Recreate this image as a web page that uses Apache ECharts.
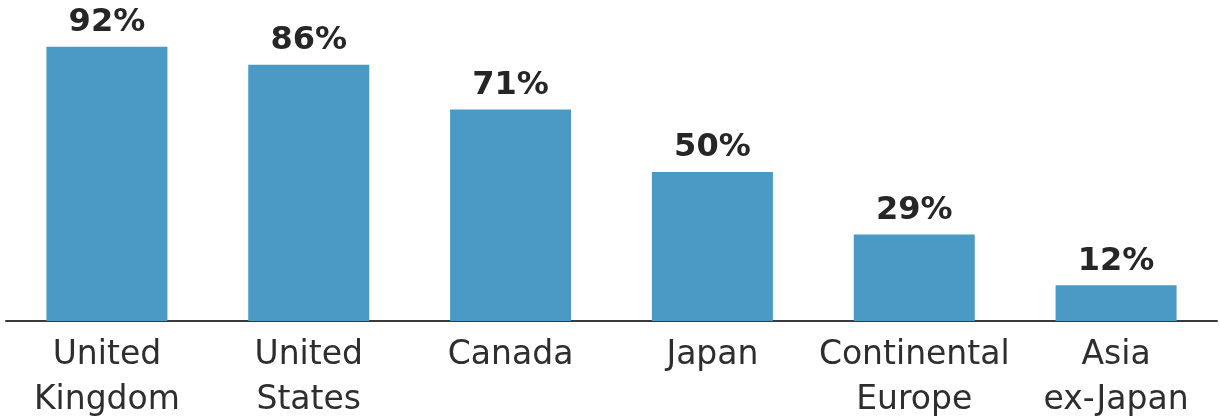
<!DOCTYPE html>
<html>
<head>
<meta charset="utf-8">
<script src="https://cdn.jsdelivr.net/npm/echarts@6/dist/echarts.min.js"></script>
<style>
  html, body { margin: 0; padding: 0; background: #ffffff; }
  #chart { width: 1220px; height: 419px; }
</style>
</head>
<body>
<div id="chart"></div>
<script>
// Regions shown along the bottom axis
const regions = ['United\nKingdom', 'United\nStates', 'Canada', 'Japan', 'Continental\nEurope', 'Asia\nex-Japan'];
// Share per region, in percent
const shares = [92, 86, 71, 50, 29, 12];

const chart = echarts.init(document.getElementById('chart'));
chart.setOption({
  backgroundColor: '#ffffff',
  animation: false,
  grid: { left: 6, right: 3, top: 23, bottom: 98, outerBoundsMode: 'none', containLabel: false },
  xAxis: {
    type: 'category',
    data: regions,
    axisLine: { show: true, lineStyle: { color: '#3a3a3a', width: 2 } },
    axisTick: { show: false },
    axisLabel: {
      interval: 0,
      margin: 12,
      fontFamily: 'DejaVu Sans',
      fontSize: 33,
      lineHeight: 45,
      color: '#2e2e2e'
    }
  },
  yAxis: {
    type: 'value',
    min: 0,
    max: 100,
    show: false,
    splitLine: { show: false }
  },
  series: [{
    type: 'bar',
    data: shares,
    barWidth: 121,
    itemStyle: { color: '#4a9ac5' },
    label: {
      show: true,
      position: 'top',
      distance: 8,
      formatter: '{c}%',
      fontFamily: 'DejaVu Sans',
      fontWeight: 'bold',
      fontSize: 32,
      color: '#262626'
    }
  }]
});
</script>
</body>
</html>
